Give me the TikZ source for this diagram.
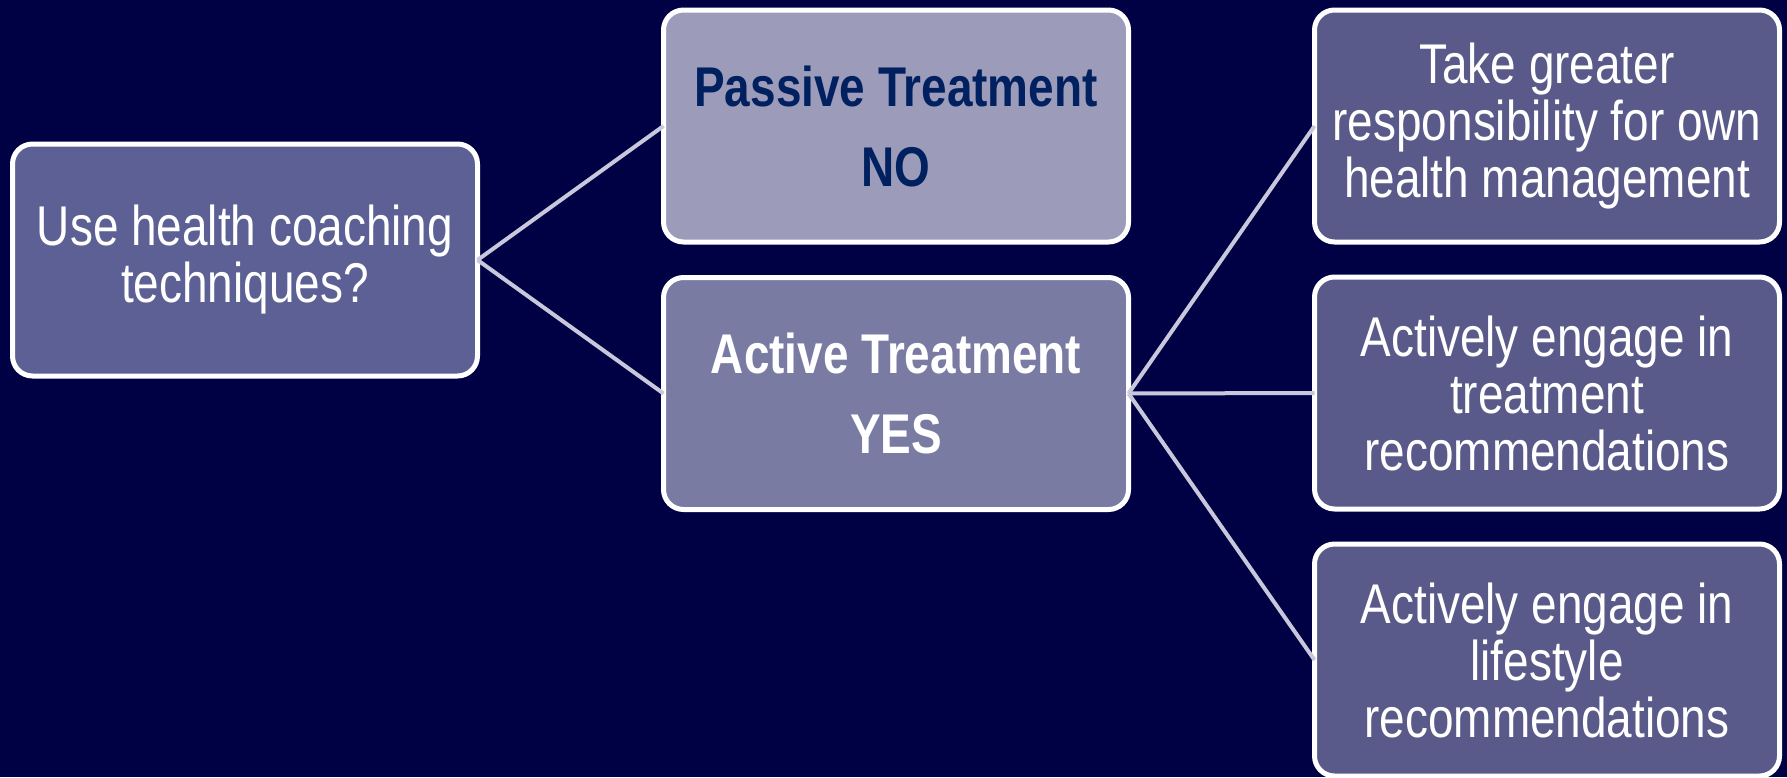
\documentclass[tikz,border=0pt]{standalone}
\usepackage{fontspec}
\setmainfont{Liberation Sans}[FakeStretch=0.82]
\usepackage{xcolor}
\usepackage{tikz}
\usetikzlibrary{positioning}

\definecolor{bgnavy}{HTML}{000044}
\definecolor{boxblue}{HTML}{5D6094}
\definecolor{outblue}{HTML}{59598A}
\definecolor{activeblue}{HTML}{7A7BA3}
\definecolor{passiveblue}{HTML}{9C9CBA}
\definecolor{passivetext}{HTML}{002060}
\definecolor{linkgrey}{HTML}{C8C8DC}

\begin{document}
\begin{tikzpicture}[
  x=1pt, y=1pt,
  node distance=35pt and 186pt,
  box/.style={rectangle, draw=white, line width=5pt, rounded corners=20pt, minimum width=465pt, minimum height=232pt, align=center, text=white, font=\fontsize{56}{57}\selectfont, inner sep=0pt, outer sep=0pt},
  question/.style={box, fill=boxblue},
  passive/.style={box, fill=passiveblue, text=passivetext, font=\fontsize{56}{80}\selectfont\bfseries},
  active/.style={box, fill=activeblue, font=\fontsize{56}{80}\selectfont\bfseries},
  outcome/.style={box, fill=outblue},
  link/.style={draw=linkgrey, line width=4pt}
]

\fill[bgnavy] (0,0) rectangle (1787,-777);
\useasboundingbox (0,0) rectangle (1787,-777);

\node[question] (coach) at (245,-260) {Use health coaching\\techniques?};

\node[passive, right=of coach, yshift=134pt] (passive) {Passive Treatment\\NO};
\node[active, right=of coach, yshift=-133.5pt] (active) {Active Treatment\\YES};

\node[outcome, right=of passive] (responsibility) {Take greater\\responsibility for own\\health management};
\node[outcome, below=of responsibility] (treatment) {Actively engage in\\treatment\\recommendations};
\node[outcome, below=of treatment] (lifestyle) {Actively engage in\\lifestyle\\recommendations};

\draw[link] (coach.east) -- (passive.west);
\draw[link] (coach.east) -- (active.west);
\draw[link] (active.east) -- (responsibility.west);
\draw[link] (active.east) -- (treatment.west);
\draw[link] (active.east) -- (lifestyle.west);

\end{tikzpicture}
\end{document}
